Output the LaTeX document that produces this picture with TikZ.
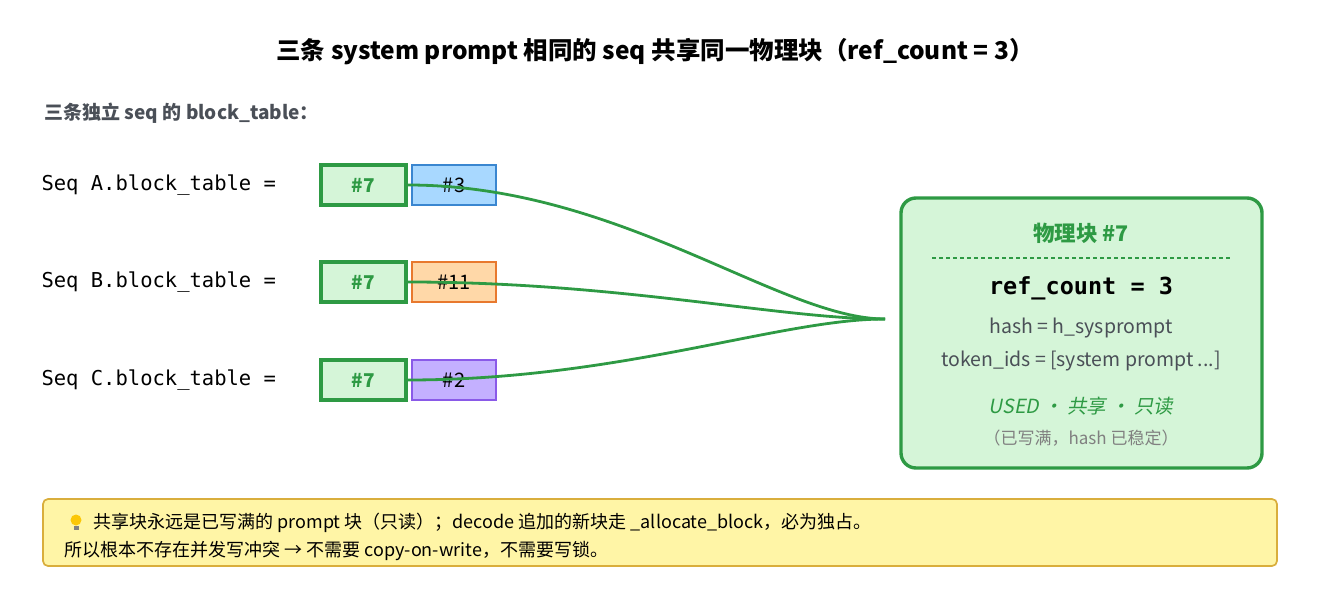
\documentclass[tikz,border=0pt]{standalone}
\usepackage{fontspec}
\setmainfont{Noto Sans CJK SC}
\setmonofont{DejaVu Sans Mono}
\newfontfamily\slantcjk{Noto Sans CJK SC}[FakeSlant=0.2]
\usetikzlibrary{positioning,arrows.meta}
\definecolor{usedgreen}{HTML}{2E9A44}
\definecolor{usedfill}{HTML}{D5F5D8}
\definecolor{bluefill}{HTML}{A8D8FF}
\definecolor{blueline}{HTML}{3A86D0}
\definecolor{orangefill}{HTML}{FFD8A8}
\definecolor{orangeline}{HTML}{E8792E}
\definecolor{purplefill}{HTML}{C4B0FF}
\definecolor{purpleline}{HTML}{8A5AE8}
\definecolor{textgrey}{HTML}{4A4F57}
\definecolor{notefill}{HTML}{FFF5A6}
\definecolor{noteline}{HTML}{D9AE3C}
\tikzset{
  seqlabel/.style={anchor=west, font=\ttfamily\fontsize{20.5}{24}\selectfont},
  sharedblk/.style={draw=usedgreen, line width=3.4pt, fill=usedfill, minimum width=85pt, minimum height=40pt,
    text=usedgreen, font=\bfseries\fontsize{19}{22}\selectfont},
  ownblk/.style={line width=1.5pt, minimum width=84pt, minimum height=40pt, font=\fontsize{20}{23}\selectfont},
  share/.style={usedgreen, line width=2.8pt},
  info/.style={text=textgrey, font=\fontsize{19.5}{23}\selectfont}
}
\begin{document}
\begin{tikzpicture}[x=1pt,y=-1pt]
  \useasboundingbox (0,0) rectangle (1324,612);
  \node[font=\bfseries\fontsize{24.5}{29}\selectfont] (title) at (655,52) {三条 system prompt 相同的 seq 共享同一物理块（ref\_count = 3）};
  \node[anchor=west, text=textgrey, font=\bfseries\fontsize{19}{22}\selectfont] (sub) at (41,113) {三条独立 seq 的 block\_table：};
  % block tables
  \foreach \y/\s/\n/\f/\l in {185/A/3/bluefill/blueline, 282/B/11/orangefill/orangeline, 380/C/2/purplefill/purpleline}{
    \node[seqlabel] (lbl\s) at (38,\y) {Seq \s.block\_table =};
    \node[sharedblk] (sh\s) at (363.5,\y) {\#7};
    \node[ownblk, draw=\l, fill=\f] (own\s) at (454,\y) {\#\n};
  }
  % physical block
  \node[draw=usedgreen, line width=3.4pt, fill=usedfill, rounded corners=15pt, minimum width=361pt, minimum height=270pt] (phys) at (1081.5,333) {};
  \coordinate (hub) at (885,319);
  \node[text=usedgreen, font=\bfseries\fontsize{21.5}{25}\selectfont] (ptitle) at (1081,233) {物理块 \#7};
  \draw[usedgreen, line width=1.1pt, dash pattern=on 4pt off 3pt] (932,258) -- (1232,258);
  \node[font=\ttfamily\bfseries\fontsize{23.5}{28}\selectfont] (rc) at (1081,288) {ref\_count = 3};
  \node[info] (hash) at (1081,328) {hash = h\_sysprompt};
  \node[info] (tok) at (1081,361) {token\_ids = [system prompt ...]};
  \node[text=usedgreen, font=\slantcjk\fontsize{19.5}{23}\selectfont] (state) at (1081,406) {USED · 共享 · 只读};
  \node[text=gray, font=\fontsize{17}{20}\selectfont] (note2) at (1081,438) {（已写满，hash 已稳定）};
  % shared links
  \foreach \s/\y in {A/185,B/282,C/380}{
    \draw[share] (sh\s.east) .. controls (620,\y) and (780,319) .. (hub);
  }
  % note
  \node[draw=noteline, line width=1.7pt, fill=notefill, rounded corners=5pt, minimum width=1234pt, minimum height=67pt] (note) at (660,532.5) {};
  \fill[yellow!60!orange] (76,520) circle (5.5pt);
  \fill[gray] (73.5,526) rectangle (78.5,530);
  \node[anchor=west, font=\fontsize{18}{21}\selectfont] (line1) at (90,523) {共享块永远是已写满的 prompt 块（只读）；decode 追加的新块走 \_allocate\_block，必为独占。};
  \node[anchor=west, font=\fontsize{18}{21}\selectfont] (line2) at (61,551) {所以根本不存在并发写冲突 → 不需要 copy-on-write，不需要写锁。};
\end{tikzpicture}
\end{document}
